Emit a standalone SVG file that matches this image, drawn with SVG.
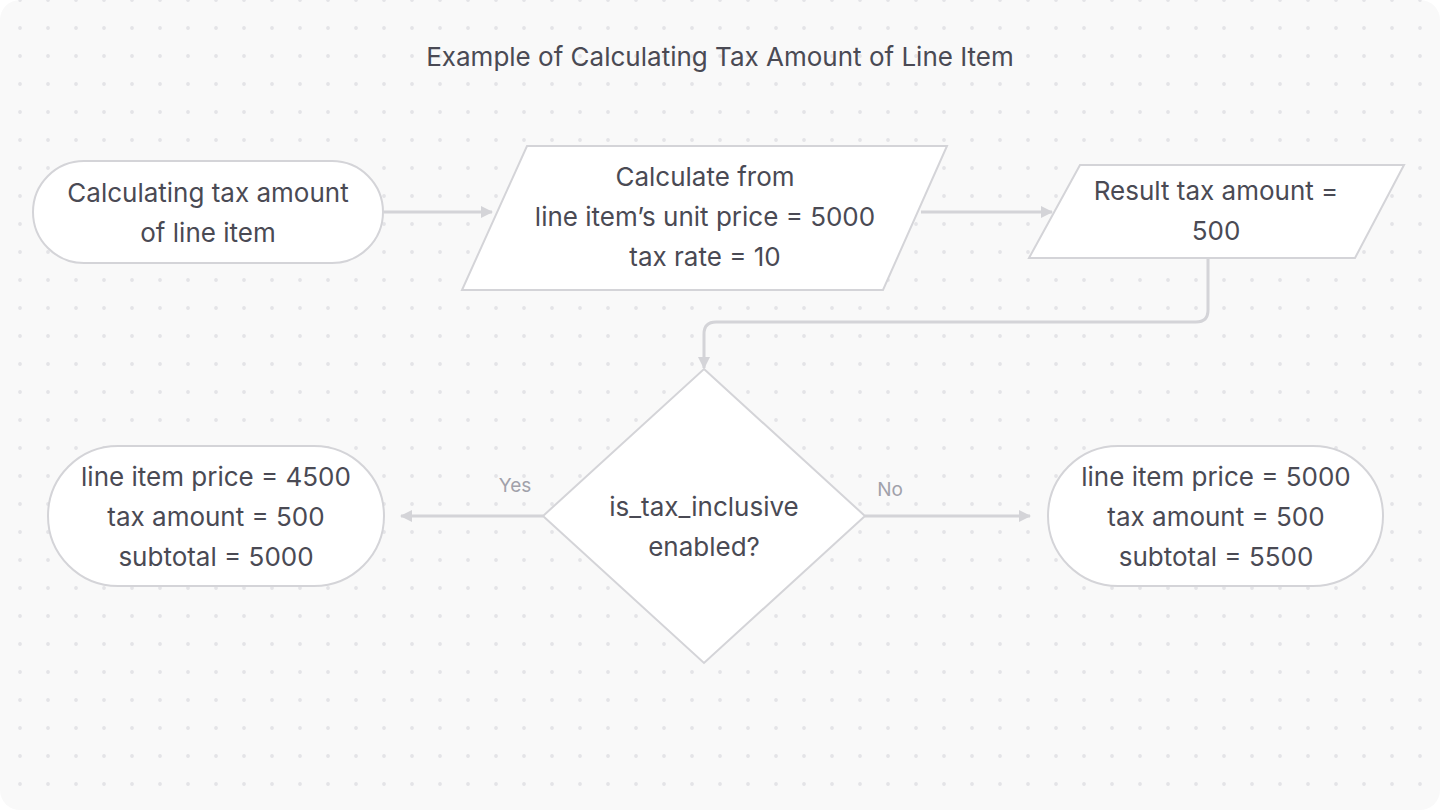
<svg xmlns="http://www.w3.org/2000/svg" width="1440" height="810" viewBox="0 0 1440 810">
<defs>
<pattern id="dots" x="0" y="0" width="28" height="28" patternUnits="userSpaceOnUse">
<circle cx="20" cy="0" r="1.9" fill="#e4e4e7"/>
<circle cx="20" cy="28" r="1.9" fill="#e4e4e7"/>
</pattern>
<marker id="arrow" viewBox="0 0 12 12" refX="11" refY="6" markerWidth="12" markerHeight="12" markerUnits="userSpaceOnUse" orient="auto">
<path d="M0,0 L12,6 L0,12 Z" fill="#d4d4d8"/>
</marker>
<style>
.shape{fill:#ffffff;stroke:#d4d4d8;stroke-width:2}
.t{font-family:Inter,"Liberation Sans",sans-serif;font-size:26px;fill:#4a4a54;text-anchor:middle}
.lbl{font-family:Inter,"Liberation Sans",sans-serif;font-size:19px;fill:#a1a1aa;text-anchor:middle}
.conn{fill:none;stroke:#d4d4d8;stroke-width:3}
</style>
</defs>
<rect x="0" y="0" width="1440" height="810" fill="#ffffff"/>
<rect x="0" y="0" width="1440" height="810" rx="20" fill="#f9f9f9"/>
<rect x="0" y="0" width="1440" height="810" rx="20" fill="url(#dots)"/>
<text class="t" x="720" y="66">Example of Calculating Tax Amount of Line Item</text>
<g id="connectors">
<path class="conn" d="M384,212 H492" marker-end="url(#arrow)"/>
<path class="conn" d="M921,212 H1052" marker-end="url(#arrow)"/>
<path class="conn" d="M1208,259 V310 Q1208,322 1196,322 H716 Q704,322 704,334 V368" marker-end="url(#arrow)"/>
<path class="conn" d="M543,516 H401" marker-end="url(#arrow)"/>
<path class="conn" d="M865,516 H1030" marker-end="url(#arrow)"/>
<text class="lbl" x="515" y="492">Yes</text>
<text class="lbl" x="890" y="496">No</text>
</g>
<g id="start">
<rect class="shape" x="33" y="161" width="350" height="102" rx="51"/>
<text class="t" x="208" y="202">Calculating tax amount</text>
<text class="t" x="208" y="242">of line item</text>
</g>
<g id="calculate">
<polygon class="shape" points="527,146 947,146 883,290 462,290"/>
<text class="t" x="705" y="186">Calculate from</text>
<text class="t" x="705" y="226">line item’s unit price = 5000</text>
<text class="t" x="705" y="266">tax rate = 10</text>
</g>
<g id="result">
<polygon class="shape" points="1080,165 1404,165 1355,258 1029,258"/>
<text class="t" x="1216" y="200">Result tax amount =</text>
<text class="t" x="1216" y="240">500</text>
</g>
<g id="decision">
<polygon class="shape" points="704,369 865,516 704,663 543,516"/>
<text class="t" x="704" y="516">is_tax_inclusive</text>
<text class="t" x="704" y="556">enabled?</text>
</g>
<g id="yes-result">
<rect class="shape" x="48" y="446" width="336" height="140" rx="70"/>
<text class="t" x="216" y="486">line item price = 4500</text>
<text class="t" x="216" y="526">tax amount = 500</text>
<text class="t" x="216" y="566">subtotal = 5000</text>
</g>
<g id="no-result">
<rect class="shape" x="1048" y="446" width="335" height="140" rx="70"/>
<text class="t" x="1216" y="486">line item price = 5000</text>
<text class="t" x="1216" y="526">tax amount = 500</text>
<text class="t" x="1216" y="566">subtotal = 5500</text>
</g>
</svg>
